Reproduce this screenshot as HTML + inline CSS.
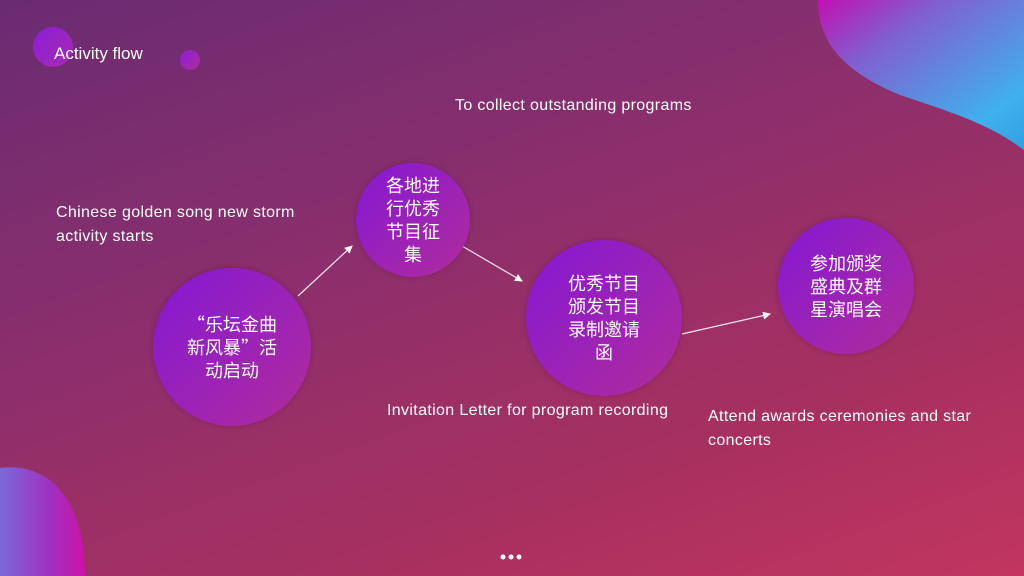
<!DOCTYPE html>
<html><head><meta charset="utf-8"><style>
html,body{margin:0;padding:0}
body{width:1024px;height:576px;overflow:hidden;position:relative;
background:linear-gradient(160deg,#6a2b72 0%,#8c2f6c 40%,#a8305f 75%,#c23560 100%);
font-family:"Liberation Sans","Noto Sans CJK SC",sans-serif;color:#fff}
.c{position:absolute;border-radius:50%;background:linear-gradient(135deg,#8418d6 0%,#9a22b8 50%,#b02c9a 100%);
display:flex;align-items:center;justify-content:center;text-align:center;font-size:18px;line-height:23px;
font-family:"Noto Sans CJK SC",sans-serif;box-shadow:0 0 6px rgba(80,0,80,.3)}
.t{position:absolute;font-size:16px;letter-spacing:.35px;line-height:24px;white-space:nowrap}
</style></head><body>
<div style="position:absolute;left:33px;top:27px;width:40px;height:40px;border-radius:50%;background:linear-gradient(135deg,#8a1ed8,#a62ab0)"></div>
<div style="position:absolute;left:180px;top:50px;width:20px;height:20px;border-radius:50%;background:linear-gradient(135deg,#8a1ed8,#b02c9a)"></div>
<div class="t" style="left:54px;top:42px;font-size:17px;letter-spacing:0">Activity flow</div>
<svg style="position:absolute;left:0;top:0" width="1024" height="576">
<defs>
<linearGradient id="g1" x1="0" y1="0" x2="1" y2="1"><stop offset="0" stop-color="#c010b0"/><stop offset=".3" stop-color="#8060d0"/><stop offset=".8" stop-color="#40b0ee"/><stop offset="1" stop-color="#30a0e0"/></linearGradient>
<linearGradient id="g2" x1="0" y1="0" x2="1" y2="0"><stop offset="0" stop-color="#7a6ad8"/><stop offset=".6" stop-color="#a030c0"/><stop offset="1" stop-color="#d010a8"/></linearGradient>
<marker id="a" markerWidth="8" markerHeight="8" refX="7" refY="4" orient="auto" markerUnits="userSpaceOnUse"><path d="M0,0 L8,4 L0,8 z" fill="#fff"/></marker>
</defs>
<path d="M818,0 C818,40 840,70 900,95 C960,115 990,125 1024,150 L1024,0 Z" fill="url(#g1)"/>
<path d="M0,468 C50,462 85,500 85,576 L0,576 Z" fill="url(#g2)"/>
<g stroke="#f4e6f0" stroke-width="1.2" fill="none" marker-end="url(#a)">
<line x1="298" y1="296" x2="352" y2="246"/>
<line x1="462" y1="246" x2="522" y2="281"/>
<line x1="682" y1="334" x2="770" y2="314"/>
</g>
<circle cx="503" cy="557" r="2.5" fill="#fff"/><circle cx="511" cy="557" r="2.5" fill="#fff"/><circle cx="519" cy="557" r="2.5" fill="#fff"/>
</svg>
<div class="t" style="left:455px;top:94px">To collect outstanding programs</div>
<div class="t" style="left:56px;top:201px">Chinese golden song new storm<br>activity starts</div>
<div class="t" style="left:387px;top:399px">Invitation Letter for program recording</div>
<div class="t" style="left:708px;top:405px">Attend awards ceremonies and star<br>concerts</div>
<div class="c" style="left:153px;top:268px;width:158px;height:158px">“乐坛金曲<br>新风暴”活<br>动启动</div>
<div class="c" style="left:356px;top:163px;width:114px;height:114px">各地进<br>行优秀<br>节目征<br>集</div>
<div class="c" style="left:526px;top:240px;width:156px;height:156px">优秀节目<br>颁发节目<br>录制邀请<br>函</div>
<div class="c" style="left:778px;top:218px;width:136px;height:136px">参加颁奖<br>盛典及群<br>星演唱会</div>
</body></html>
